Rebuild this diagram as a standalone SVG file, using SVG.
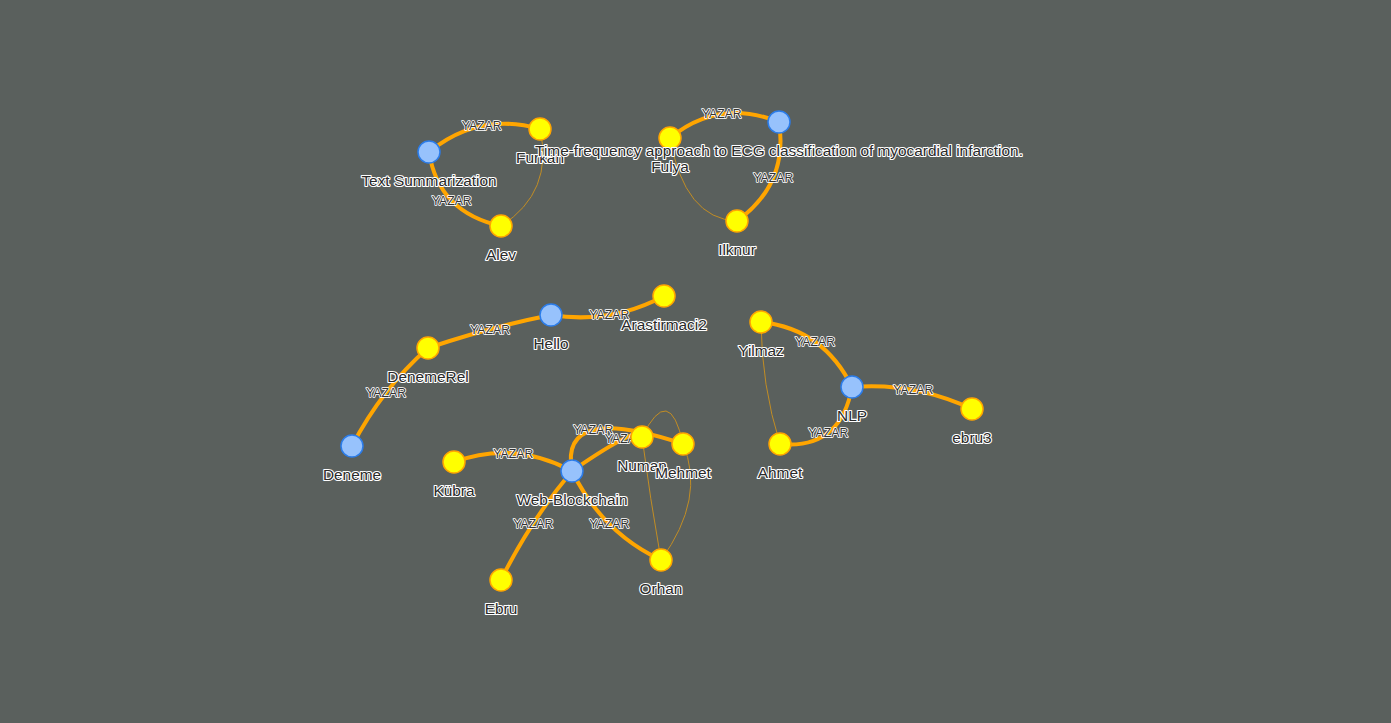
<svg xmlns="http://www.w3.org/2000/svg" width="1391" height="723" viewBox="0 0 1391 723">
<style>
.bg{fill:#5a605d}
.e{fill:none;stroke:#FFA500;stroke-width:4}
.t{fill:none;stroke:#c28d24;stroke-width:1}
.el{font-family:"Liberation Sans",Arial,sans-serif;font-size:12.3px;fill:#343434;stroke:#ffffff;stroke-width:1.6;paint-order:stroke;stroke-linejoin:round;text-anchor:middle}
.y{fill:#FFFF00;stroke:#FFA500;stroke-width:1.5}
.b{fill:#97C2FC;stroke:#2B7CE9;stroke-width:1.5}
.nl{font-family:"Liberation Sans",Arial,sans-serif;font-size:15.4px;fill:#2a2a2a;stroke:#ffffff;stroke-width:2.2;paint-order:stroke;stroke-linejoin:round;text-anchor:middle}
</style>
<rect class="bg" x="0" y="0" width="1391" height="723"/>
<g id="connectors">
<path class="t" d="M540,129 Q554,192 501,226"/>
<path class="t" d="M670,138 Q684.5,219 737,221"/>
<path class="t" d="M761,322 Q761.5,385.5 780,444"/>
<path class="t" d="M642,437 Q669.5,381.5 683,444"/>
<path class="t" d="M683,444 Q706,498 661,560"/>
<path class="t" d="M642,437 Q650,498 661,560"/>
<path class="e" d="M429,152 Q478.9,111.5 540,129"/>
<text class="el" x="481.7" y="130.3">YAZAR</text>
<path class="e" d="M429,152 Q438.4,212.4 501,226"/>
<text class="el" x="451.7" y="205">YAZAR</text>
<path class="e" d="M670,138 Q718.9,98 779,122"/>
<text class="el" x="721.7" y="118.3">YAZAR</text>
<path class="e" d="M779,122 Q788.6,183.9 737,221"/>
<text class="el" x="773.3" y="182">YAZAR</text>
<path class="e" d="M551,315 Q490.5,327.1 428,348"/>
<text class="el" x="490" y="333.6">YAZAR</text>
<path class="e" d="M551,315 Q611.1,324.5 664,296"/>
<text class="el" x="609.3" y="319.3">YAZAR</text>
<path class="e" d="M428,348 Q382,388.4 352,446"/>
<text class="el" x="386" y="397">YAZAR</text>
<path class="e" d="M572,471 Q513.6,440.1 454,462"/>
<text class="el" x="513.3" y="457.6">YAZAR</text>
<path class="e" d="M572,471 Q559.1,402.5 683,444"/>
<text class="el" x="593.3" y="434.3">YAZAR</text>
<path class="e" d="M572,471 Q642.4,422.6 642,437"/>
<text class="el" x="624.7" y="442.6">YAZAR</text>
<path class="e" d="M572,471 Q602.1,532.5 661,560"/>
<text class="el" x="609.3" y="528.3">YAZAR</text>
<path class="e" d="M572,471 Q530.1,521.1 501,580"/>
<text class="el" x="533.3" y="527.6">YAZAR</text>
<path class="e" d="M761,322 Q823.5,328.9 852,387"/>
<text class="el" x="815" y="346">YAZAR</text>
<path class="e" d="M852,387 Q914.6,382 972,409"/>
<text class="el" x="913.3" y="394.3">YAZAR</text>
<path class="e" d="M852,387 Q840.6,449.9 780,444"/>
<text class="el" x="828.3" y="437">YAZAR</text>
</g>
<g id="n-ts"><circle class="b" cx="429" cy="152" r="11"/><text class="nl" x="429" y="186">Text Summarization</text></g>
<g id="n-furkan"><circle class="y" cx="540" cy="129" r="11"/><text class="nl" x="540" y="163">Furkan</text></g>
<g id="n-alev"><circle class="y" cx="501" cy="226" r="11"/><text class="nl" x="501" y="260">Alev</text></g>
<g id="n-fulya"><circle class="y" cx="670" cy="138" r="11"/><text class="nl" x="670" y="172">Fulya</text></g>
<g id="n-ilknur"><circle class="y" cx="737" cy="221" r="11"/><text class="nl" x="737" y="255">Ilknur</text></g>
<g id="n-tf"><circle class="b" cx="779" cy="122" r="11"/><text class="nl" x="779" y="156">Time-frequency approach to ECG classification of myocardial infarction.</text></g>
<g id="n-hello"><circle class="b" cx="551" cy="315" r="11"/><text class="nl" x="551" y="349">Hello</text></g>
<g id="n-arastirmaci2"><circle class="y" cx="664" cy="296" r="11"/><text class="nl" x="664" y="330">Arastirmaci2</text></g>
<g id="n-denemerel"><circle class="y" cx="428" cy="348" r="11"/><text class="nl" x="428" y="382">DenemeRel</text></g>
<g id="n-deneme"><circle class="b" cx="352" cy="446" r="11"/><text class="nl" x="352" y="480">Deneme</text></g>
<g id="n-kubra"><circle class="y" cx="454" cy="462" r="11"/><text class="nl" x="454" y="496">Kübra</text></g>
<g id="n-ebru"><circle class="y" cx="501" cy="580" r="11"/><text class="nl" x="501" y="614">Ebru</text></g>
<g id="n-orhan"><circle class="y" cx="661" cy="560" r="11"/><text class="nl" x="661" y="594">Orhan</text></g>
<g id="n-numan"><circle class="y" cx="642" cy="437" r="11"/><text class="nl" x="642" y="471">Numan</text></g>
<g id="n-mehmet"><circle class="y" cx="683" cy="444" r="11"/><text class="nl" x="683" y="478">Mehmet</text></g>
<g id="n-wb"><circle class="b" cx="572" cy="471" r="11"/><text class="nl" x="572" y="505">Web-Blockchain</text></g>
<g id="n-yilmaz"><circle class="y" cx="761" cy="322" r="11"/><text class="nl" x="761" y="356">Yilmaz</text></g>
<g id="n-ahmet"><circle class="y" cx="780" cy="444" r="11"/><text class="nl" x="780" y="478">Ahmet</text></g>
<g id="n-nlp"><circle class="b" cx="852" cy="387" r="11"/><text class="nl" x="852" y="421">NLP</text></g>
<g id="n-ebru3"><circle class="y" cx="972" cy="409" r="11"/><text class="nl" x="972" y="443">ebru3</text></g>
</svg>
